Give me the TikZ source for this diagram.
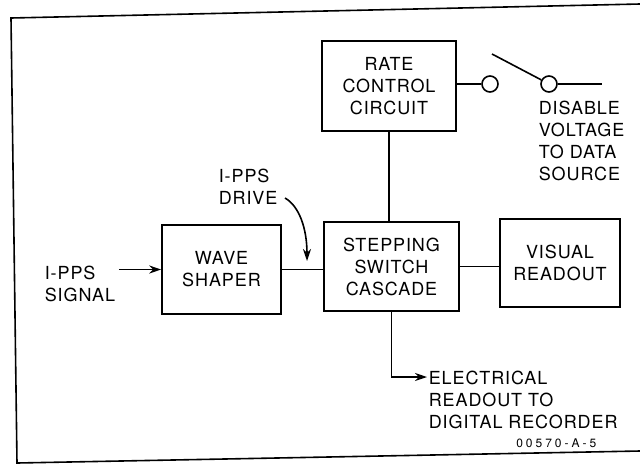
\documentclass[tikz,border=0pt]{standalone}
\usepackage{fontspec}
\setmainfont{TeX Gyre Heros}[LetterSpace=5]
\newfontfamily\codefont{TeX Gyre Heros}[LetterSpace=25]
\usetikzlibrary{arrows.meta}
\begin{document}
\begin{tikzpicture}[x=1pt,y=-1pt,line width=1.6pt,
  blk/.style={draw,rectangle,align=center,inner sep=0pt,font=\fontsize{18}{22}\selectfont},
  lbl/.style={align=left,inner sep=0pt,font=\fontsize{18}{21.8}\selectfont},
  term/.style={draw,circle,minimum size=16pt,inner sep=0pt},
  arr/.style={-{Stealth[length=12pt,width=8pt]}}]
\useasboundingbox (0,0) rectangle (640,464);
% frame
\draw (640,4) -- (11,18) -- (17,463) -- (640,451);
% blocks
\node[blk,minimum width=134pt,minimum height=90pt] (rate) at (389,86) {RATE\\CONTROL\\CIRCUIT};
\node[blk,minimum width=119pt,minimum height=89pt] (wave) at (221.5,269.5) {WAVE\\SHAPER};
\node[blk,minimum width=135pt,minimum height=89pt] (step) at (391.5,266.5) {STEPPING\\SWITCH\\CASCADE};
\node[blk,minimum width=120pt,minimum height=88pt] (vis) at (560,263) {VISUAL\\READOUT};
% switch terminals
\node[term] (c1) at (490,84) {};
\node[term] (c2) at (549,84) {};
\coordinate (swt) at (492,54);
\coordinate (cend) at (602,84);
% labels
\node[lbl,anchor=north west] (sig) at (44,265.5) {I-PPS\\SIGNAL};
\node[lbl,anchor=north west] (drv) at (218,168.5) {I-PPS\\DRIVE};
\node[lbl,anchor=north west] (dis) at (538,100.5) {DISABLE\\VOLTAGE\\TO DATA\\SOURCE};
\node[lbl,anchor=north west] (elec) at (428,370.5) {ELECTRICAL\\READOUT TO\\DIGITAL RECORDER};
\node[inner sep=0pt,anchor=base east,font=\codefont\fontsize{12}{14}\selectfont] (code) at (597,447) {00570-A-5};
% connectors
\draw (rate.south) -- (rate.south |- step.north);
\draw (wave.east) -- (wave.east -| step.west);
\draw (step.east) -- (step.east -| vis.west);
\draw[arr] ([xshift=3pt]sig.east |- wave.west) -- (wave.west);
\draw (rate.east |- c1.west) -- (c1.west);
\draw (c2.east) -- (cend);
\draw (swt) -- (c2.152);
\coordinate (etip) at (427,377);
\draw[arr] (step.south) |- (etip);
\coordinate (dstart) at (285,198);
\coordinate (dtip) at (307,261);
\draw[arr] (dstart) .. controls (299,206) and (307,228) .. (dtip);
\end{tikzpicture}
\end{document}
